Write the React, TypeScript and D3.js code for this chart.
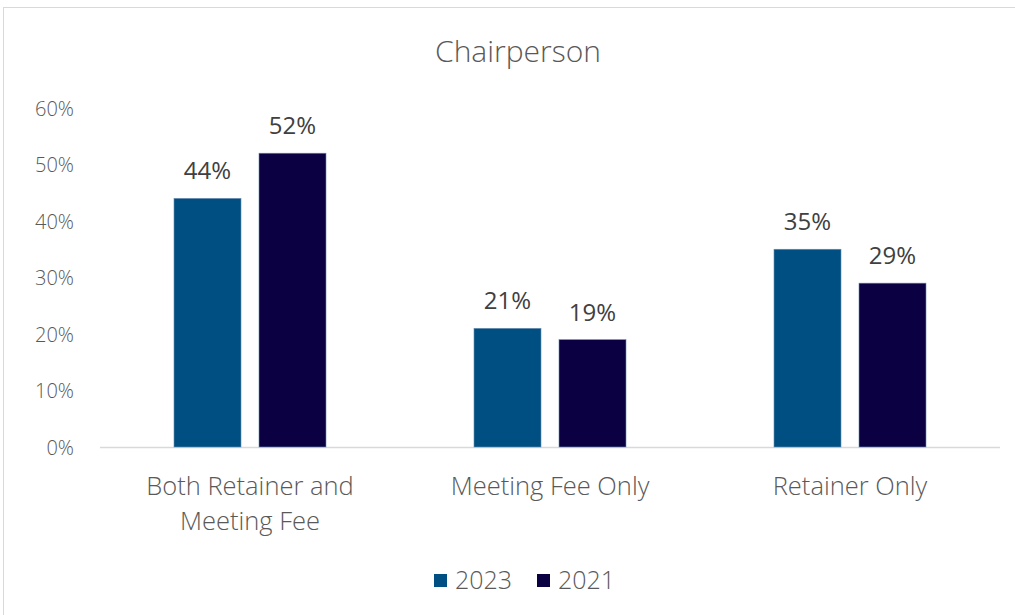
import React from "react";
import * as d3 from "d3";

const categories = ["Both Retainer and Meeting Fee", "Meeting Fee Only", "Retainer Only"];
const categoryLines = [["Both Retainer and", "Meeting Fee"], ["Meeting Fee Only"], ["Retainer Only"]];
const seriesNames = ["2023", "2021"];
const values2023 = [44, 21, 35];
const values2021 = [52, 19, 29];
const yTicks = [0, 10, 20, 30, 40, 50, 60];
const colors = ["#004F82", "#0A0042"];

export default function App() {
  const W = 1015, H = 615;
  const left = 100, right = 1000, top = 108, bottom = 447;
  const x = d3.scaleBand<string>().domain(categories).range([left, right]).padding(0);
  const y = d3.scaleLinear().domain([0, 60]).range([bottom, top]);
  const barW = 67, gap = 18;
  const series = [values2023, values2021];
  const font = "'Open Sans', 'Liberation Sans', sans-serif";
  return (
    <svg width={W} height={H} style={{ position: "absolute", left: 0, top: 0 }} fontFamily={font} fontWeight={300}>
      <rect x={0} y={0} width={W} height={H} fill="#fff" />
      <rect x={3.5} y={7.5} width={W + 10} height={H} fill="#fff" stroke="#d9d9d9" strokeWidth={1} />
      <text x={518} y={62} textAnchor="middle" fontSize={30} fill="#595959">Chairperson</text>
      {yTicks.map((t) => (
        <text key={t} x={74} y={y(t) + 7.5} textAnchor="end" fontSize={20} fill="#595959">{t}%</text>
      ))}
      <line x1={left} x2={right} y1={bottom + 0.5} y2={bottom + 0.5} stroke="#d9d9d9" strokeWidth={1.5} />
      {categories.map((c, i) => {
        const cx = (x(c) as number) + x.bandwidth() / 2;
        const start = cx - (barW * 2 + gap) / 2;
        return (
          <g key={c}>
            {series.map((vals, s) => {
              const bx = start + s * (barW + gap);
              return (
                <g key={s}>
                  <rect x={bx} y={y(vals[i])} width={barW} height={bottom - y(vals[i])} fill={colors[s]} stroke="#6a8db0" strokeWidth={0.6} />
                  <text x={bx + barW / 2} y={y(vals[i]) - 19} textAnchor="middle" fontSize={24} fontWeight={400} fill="#404040">{vals[i]}%</text>
                </g>
              );
            })}
            {categoryLines[i].map((ln, k) => (
              <text key={k} x={cx} y={495 + k * 35} textAnchor="middle" fontSize={25.5} fill="#595959">{ln}</text>
            ))}
          </g>
        );
      })}
      {seriesNames.map((n, s) => {
        const lx = s === 0 ? 434 : 537;
        return (
          <g key={n}>
            <rect x={lx} y={574} width={13} height={13} fill={colors[s]} />
            <text x={lx + 21} y={589} fontSize={25} fill="#595959">{n}</text>
          </g>
        );
      })}
    </svg>
  );
}
